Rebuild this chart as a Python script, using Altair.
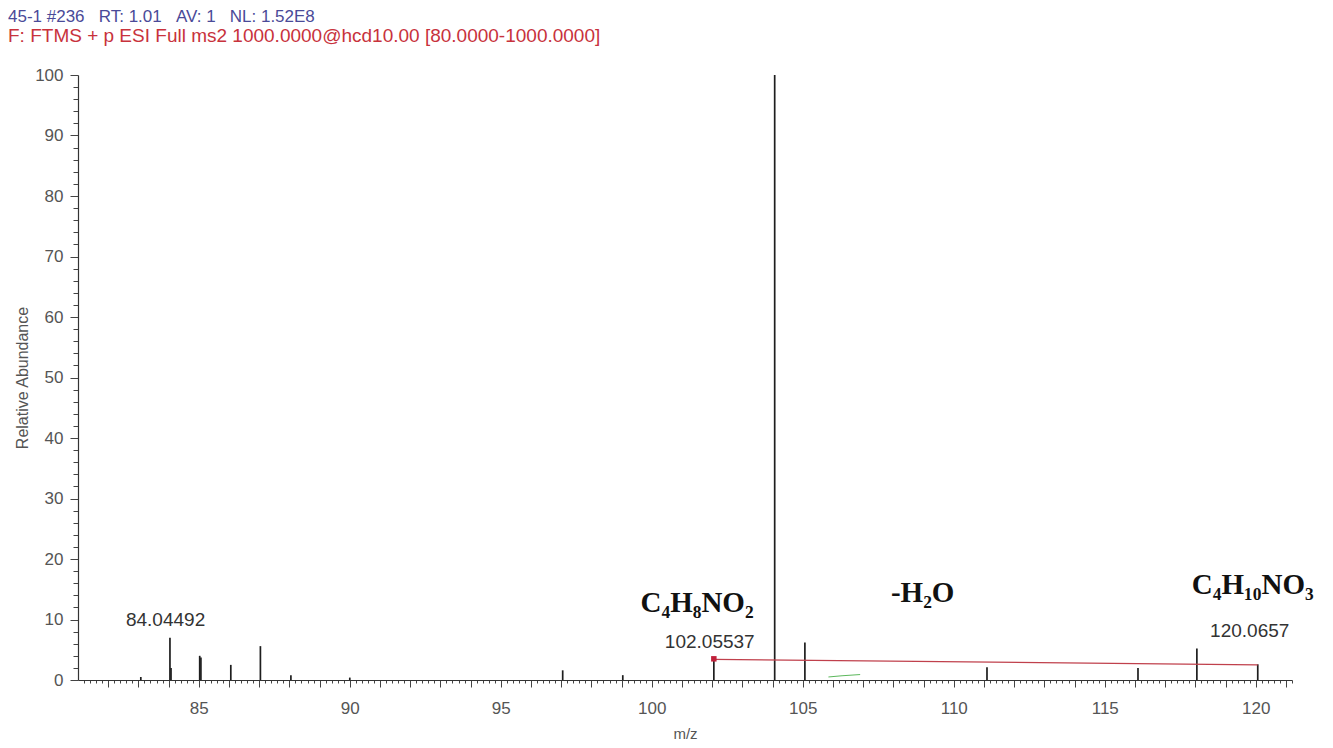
import altair as alt
import pandas as pd

# ---- peak list (m/z, relative abundance) ----
peak_mz = [83.08, 84.045, 84.08, 85.03, 85.07, 86.06, 87.04, 88.05, 90.0,
           97.05, 99.04, 102.055, 104.07, 105.07, 111.1, 116.1, 118.05, 120.066]
peak_ab = [0.5, 7.0, 2.0, 4.0, 3.7, 2.5, 5.6, 0.8, 0.4,
           1.6, 0.8, 3.6, 100.0, 6.2, 2.1, 2.0, 5.2, 2.6]

# peak m/z labels
label_text = ["84.04492", "102.05537", "120.0657"]
label_mz = [83.9, 101.92, 119.8]
label_ab = [8.2, 4.6, 6.5]

# fragment formula annotations
formula_text = ["C\u2084H\u2088NO\u2082", "-H\u2082O", "C\u2084H\u2081\u2080NO\u2083"]
formula_mz = [101.5, 108.97, 119.9]
formula_ab = [11.2, 12.9, 14.2]

# red connector between precursor and fragment
link_mz = [102.055, 120.066]
link_ab = [3.4, 2.5]

# small green noise trace
noise_mz = [105.85, 106.3, 106.9]
noise_ab = [0.5, 0.7, 0.9]

peaks = pd.DataFrame({"mz": peak_mz, "ab": peak_ab, "zero": [0.0] * len(peak_mz)})
labels = pd.DataFrame({"mz": label_mz, "ab": label_ab, "t": label_text})
formulas = pd.DataFrame({"mz": formula_mz, "ab": formula_ab, "t": formula_text})
link = pd.DataFrame({"mz": link_mz, "ab": link_ab})
noise = pd.DataFrame({"mz": noise_mz, "ab": noise_ab})
marker = pd.DataFrame({"mz": [102.055], "ab": [3.5]})

XMIN, XMAX = 81.0, 121.2
x_vals = [round(81.2 + 0.2 * i, 1) for i in range(int(round((XMAX - 81.2) / 0.2)) + 1)]
y_vals = list(range(0, 101, 2))

is_int = "abs(datum.value - round(datum.value)) < 0.001"

x_scale = alt.Scale(domain=[XMIN, XMAX], nice=False, zero=False)
y_scale = alt.Scale(domain=[0, 100], nice=False)

common_axis = dict(
    grid=False, labelOverlap=False,
    domainColor="#333", tickColor="#444", labelColor="#555", titleColor="#555",
    labelFont="Liberation Sans", titleFont="Liberation Sans",
    labelFontSize=17, titleFontWeight="normal", domainWidth=1.2,
)
x_axis = alt.Axis(
    title="m/z", values=x_vals, labelFlush=False,
    labelExpr="abs(datum.value/5 - round(datum.value/5)) < 0.001 ? format(round(datum.value), 'd') : ''",
    tickSize={"condition": {"test": is_int, "value": 7}, "value": 3},
    titlePadding=10, labelPadding=13, titleFontSize=15, **common_axis,
)
y_axis = alt.Axis(
    title="Relative Abundance", values=y_vals,
    labelExpr="datum.value % 10 === 0 ? datum.label : ''",
    tickSize={"condition": {"test": "datum.value % 10 === 0", "value": 8}, "value": 5},
    titlePadding=4, labelPadding=7, titleFontSize=16, **common_axis,
)

X = alt.X("mz:Q", scale=x_scale, axis=x_axis)
Y = alt.Y("ab:Q", scale=y_scale, axis=y_axis)

sticks = alt.Chart(peaks).mark_rule(color="#1e1e1e", strokeWidth=1.7).encode(
    x=X, y=Y, y2="zero:Q",
)
conn = alt.Chart(link).mark_line(color="#c0404c", strokeWidth=1.3).encode(x=X, y=Y)
green = alt.Chart(noise).mark_line(color="#5cb85c", strokeWidth=1).encode(x=X, y=Y)
dot = alt.Chart(marker).mark_square(color="#c0203a", size=30, opacity=1).encode(x=X, y=Y)

peak_text = alt.Chart(labels).mark_text(
    font="Liberation Sans", fontSize=19, color="#333", baseline="bottom", align="center"
).encode(x=X, y=Y, text="t:N")

formula_marks = alt.Chart(formulas).mark_text(
    font="Liberation Serif", fontSize=29, fontWeight="bold", color="#111",
    baseline="alphabetic", align="center"
).encode(x=X, y=Y, text="t:N")

chart = alt.layer(sticks, conn, green, dot, peak_text, formula_marks).properties(
    width=1214, height=605,
    background="white",
    autosize=alt.AutoSizeParams(type="none"),
    padding={"left": 70, "top": 67, "right": 33, "bottom": 60},
    title=alt.TitleParams(
        text="45-1 #236\u00a0\u00a0\u00a0RT: 1.01\u00a0\u00a0\u00a0AV: 1\u00a0\u00a0\u00a0NL: 1.52E8",
        subtitle="F: FTMS + p ESI Full ms2 1000.0000@hcd10.00 [80.0000-1000.0000]",
        anchor="start", frame="group", dx=-70, offset=19,
        font="Liberation Sans", fontSize=17, fontWeight="normal", color="#4a4a98",
        subtitleFont="Liberation Sans", subtitleFontSize=19, subtitleColor="#c8323c",
        subtitlePadding=1,
    ),
).configure_view(stroke=None)

chart.save("out.html", embed_options={"renderer": "svg", "actions": False})
